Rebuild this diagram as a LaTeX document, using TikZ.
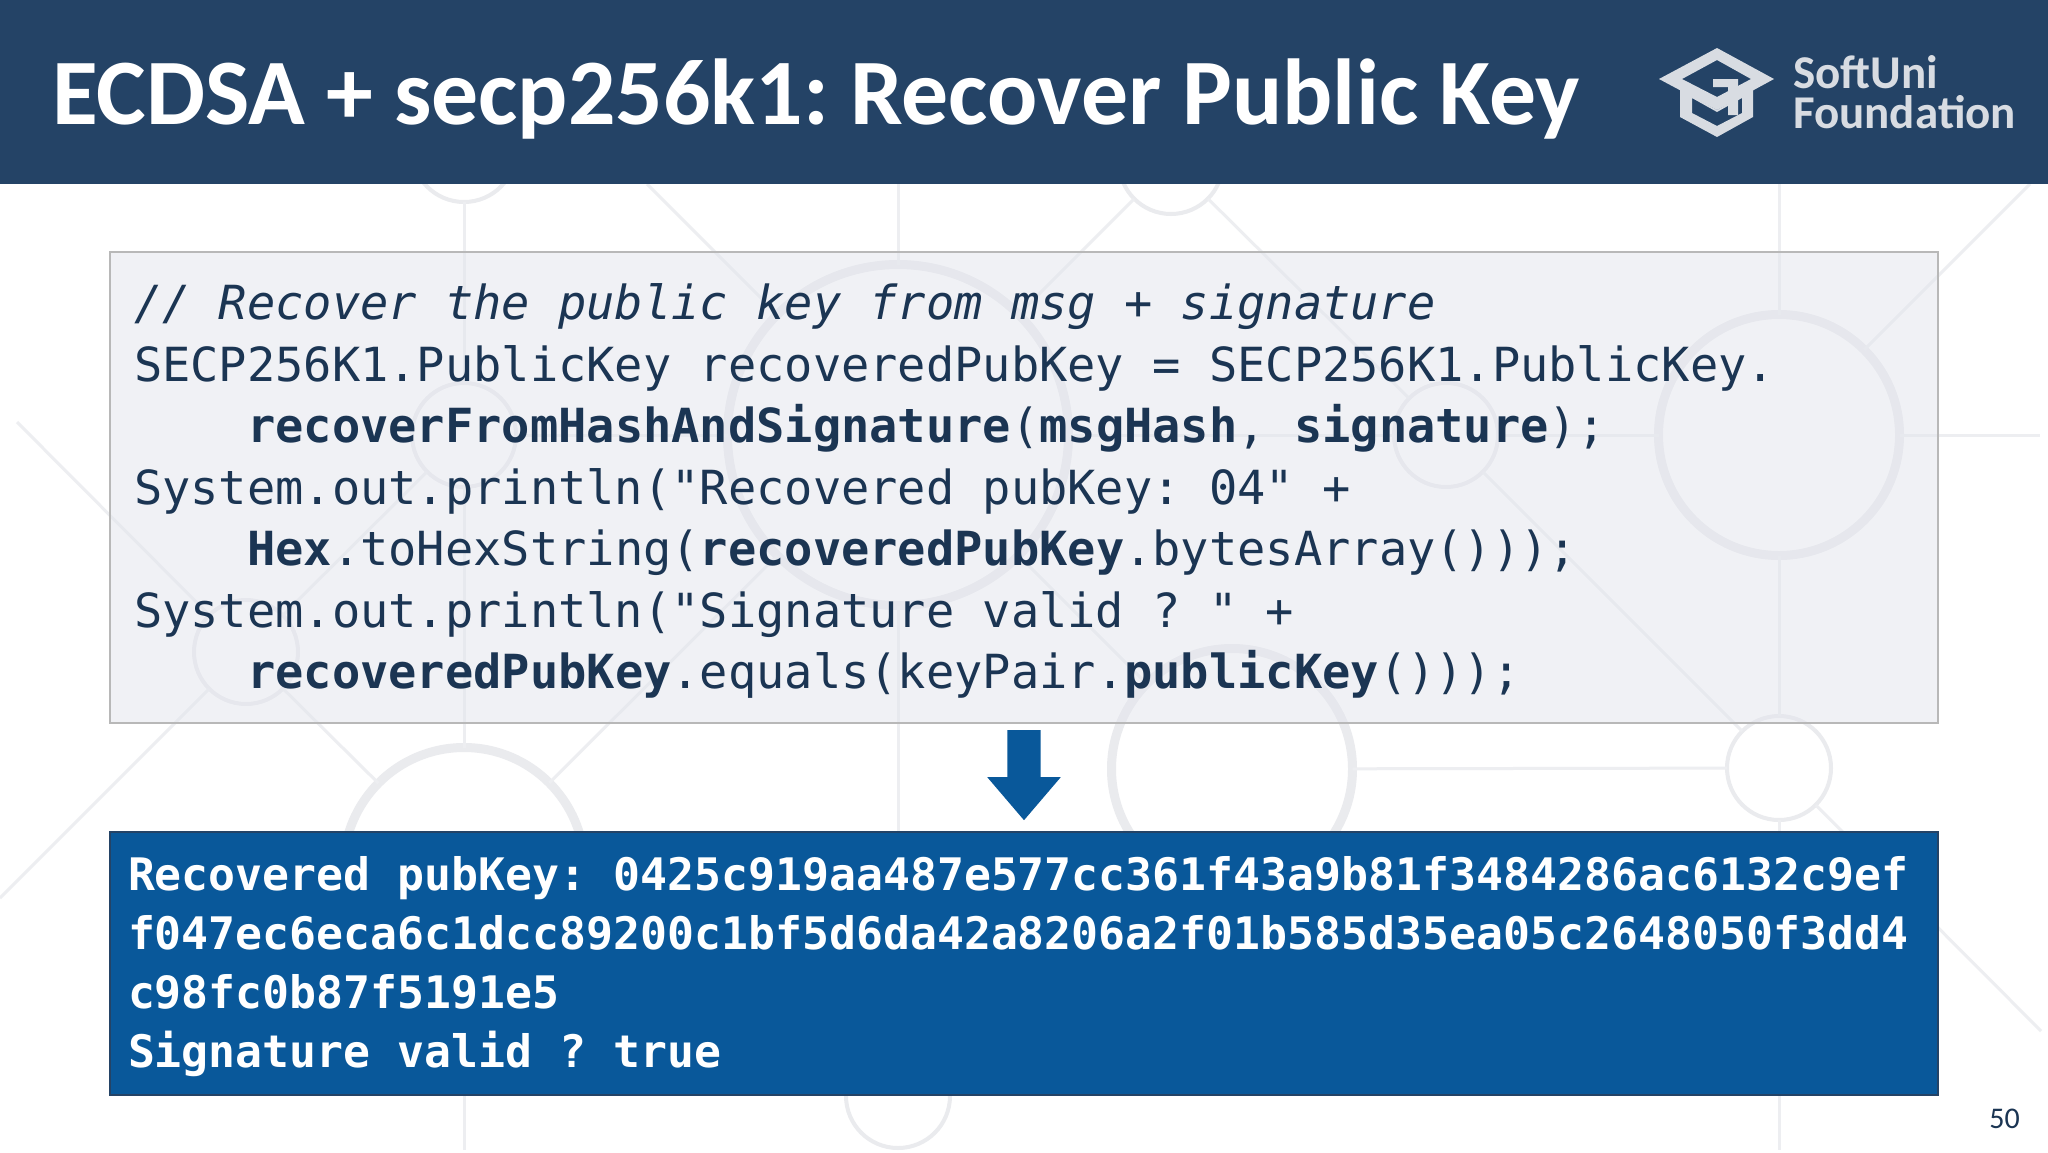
\documentclass[tikz,border=0pt]{standalone}
\usepackage{fontspec}
\setmainfont{Carlito}
\setmonofont{DejaVu Sans Mono}
\usetikzlibrary{positioning, shapes.arrows}

\definecolor{barblue}{HTML}{244366}
\definecolor{inkblue}{HTML}{1B3553}
\definecolor{boxblue}{HTML}{09589A}
\definecolor{boxgrey}{HTML}{E3E5ED}
\definecolor{logogrey}{HTML}{D8DCE2}
\definecolor{ringgrey}{HTML}{EAEBEE}
\definecolor{wiregrey}{HTML}{EDEEF1}

\newcommand{\tab}{\phantom{abcd}}

\begin{document}
\begin{tikzpicture}[x=1pt,y=-1pt]
		\tikzstyle{ring}=[circle,draw=ringgrey,inner sep=0,outer sep=0,line width=9pt,minimum size=241pt]
		\tikzstyle{bubble}=[ring,line width=4pt,minimum size=104pt]
		\tikzstyle{wire}=[draw=wiregrey,line width=3pt]
		\tikzstyle{codebox}=[draw=black!28,line width=2.5pt,fill=boxgrey,fill opacity=0.5,text opacity=1,text=inkblue,outer sep=0,anchor=north west,minimum width=1828pt,minimum height=471pt,inner xsep=24pt,inner ysep=0pt,text width=1780pt,align=flush left,font=\ttfamily\frenchspacing\fontsize{47pt}{61.5pt}\selectfont]
		\tikzstyle{outbox}=[draw=barblue,line width=2pt,fill=boxblue,text=white,outer sep=0,minimum width=1828pt,minimum height=263pt,inner xsep=18pt,inner ysep=0pt,text width=1792pt,align=flush left,font=\ttfamily\bfseries\frenchspacing\fontsize{44.8pt}{59pt}\selectfont]
		\useasboundingbox (0,0) rectangle (2048,1152);
		\fill[white] (0,0) rectangle (2048,1152);
		% background
		\node[bubble] (topa) at (464,150) {};
		\node[bubble] (topb) at (1171,162) {};
		\node[bubble] (lefta) at (464,435) {};
		\node[bubble] (leftb) at (246,652) {};
		\node[bubble] (mida) at (1446,435) {};
		\node[bubble] (rightb) at (1779,768) {};
		\node[bubble] (lowb) at (898,1096) {};
		\node[ring,minimum size=341pt] (bigc) at (898,435) {};
		\node[ring] (rightc) at (1779,435) {};
		\node[ring] (lowc) at (464,868) {};
		\node[ring] (midc) at (1232,769) {};
		\coordinate (freea) at (17,422);
		\coordinate (freeb) at (0,898);
		\coordinate (freec) at (647,184);
		\coordinate (freed) at (2030,184);
		\coordinate (freee) at (2041,1031);
		\coordinate (freef) at (464,1150);
		\coordinate (freeg) at (898,184);
		\coordinate (freeh) at (1779,184);
		\coordinate (freei) at (1779,1150);
		\coordinate (freej) at (2040,435);
		\draw[wire] (topa) -- (lefta);
		\draw[wire] (lefta) -- (lowc);
		\draw[wire] (lowc) -- (freef);
		\draw[wire] (freeg) -- (bigc);
		\draw[wire] (bigc) -- (lowb);
		\draw[wire] (freeh) -- (rightc);
		\draw[wire] (rightc) -- (rightb);
		\draw[wire] (rightb) -- (freei);
		\draw[wire] (lefta) -- (bigc);
		\draw[wire] (bigc) -- (mida);
		\draw[wire] (mida) -- (rightc);
		\draw[wire] (rightc) -- (freej);
		\draw[wire] (midc) -- (rightb);
		\draw[wire] (freea) -- (leftb);
		\draw[wire] (leftb) -- (lowc);
		\draw[wire] (freeb) -- (leftb);
		\draw[wire] (leftb) -- (lefta);
		\draw[wire] (bigc) -- (lowc);
		\draw[wire] (freec) -- (bigc);
		\draw[wire] (bigc) -- (topb);
		\draw[wire] (topb) -- (mida);
		\draw[wire] (rightc) -- (freed);
		\draw[wire] (mida) -- (rightb);
		\draw[wire] (rightb) -- (freee);
		\draw[wire] (bigc) -- (midc);
		% title bar
		\node[fill=barblue,anchor=north west,inner sep=0,minimum width=2048pt,minimum height=184pt] (bar) at (0,0) {};
		\node[anchor=base west,inner sep=0,text=white,font=\bfseries\frenchspacing\fontsize{93.7pt}{94pt}\selectfont] (title) at (52,124) {ECDSA + secp256k1: Recover Public Key};
		% logo
		\fill[logogrey,even odd rule] (1717,48) -- (1774,79) -- (1717,110) -- (1659,79) -- cycle (1717,60) -- (1751,79) -- (1717,97) -- (1682,79) -- cycle;
		\fill[logogrey,even odd rule] (1680,89) -- (1717,110) -- (1753,89) -- (1753,117) -- (1717,137) -- (1680,117) -- cycle (1692,98) -- (1717,112) -- (1742,98) -- (1742,113) -- (1717,126) -- (1692,113) -- cycle;
		\fill[logogrey] (1713,79) -- (1738,79) -- (1738,115) -- (1728,115) -- (1728,87) -- (1713,87) -- cycle;
		\node[anchor=base west,inner sep=0,text=logogrey,align=flush left,font=\bfseries\fontsize{47pt}{40pt}\selectfont] (softuni) at (1793,128) {SoftUni\\Foundation};
		% code and result
		\node[codebox] (code) at (110,252) {\rule{0pt}{45pt}\textit{// Recover the public key from msg + signature}\\
			SECP256K1.PublicKey recoveredPubKey = SECP256K1.PublicKey.\\
			\tab\textbf{recoverFromHashAndSignature}(\textbf{msgHash}, \textbf{signature});\\
			System.out.println("Recovered pubKey: 04" +\\
			\tab\textbf{Hex}.toHexString(\textbf{recoveredPubKey}.bytesArray()));\\
			System.out.println("Signature valid ? " +\\
			\tab\textbf{recoveredPubKey}.equals(keyPair.\textbf{publicKey}()));\rule[-12pt]{0pt}{12pt}};
		\node[single arrow,rotate=-90,fill=boxblue,draw=none,inner xsep=0,inner ysep=16.5pt,minimum height=90pt,minimum width=73pt,single arrow head extend=20pt,single arrow tip angle=81,below=7pt of code.south,anchor=west] (down) {};
		\node[outbox,below=11pt of down.east] (result) {\rule{0pt}{43pt}Recovered pubKey: 0425c919aa487e577cc361f43a9b81f3484286ac6132c9ef\\
			f047ec6eca6c1dcc89200c1bf5d6da42a8206a2f01b585d35ea05c2648050f3dd4\\
			c98fc0b87f5191e5\\
			Signature valid ? true\rule[-12pt]{0pt}{12pt}};
		\node[anchor=base east,inner sep=0,text=inkblue,font=\fontsize{30pt}{30pt}\selectfont] (page) at (2020,1128) {50};
\end{tikzpicture}
\end{document}
